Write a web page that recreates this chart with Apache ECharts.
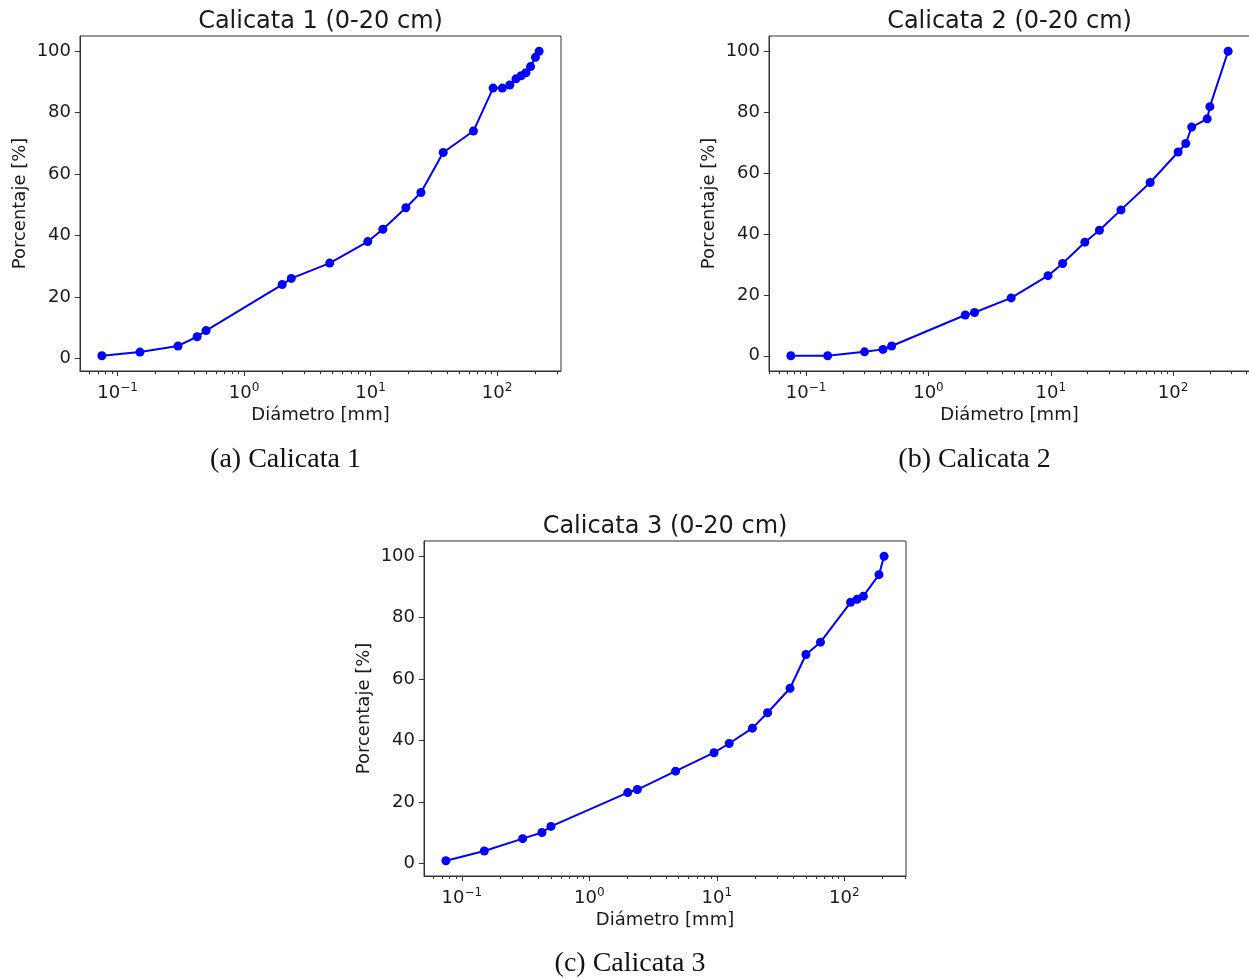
<!DOCTYPE html>
<html>
<head>
<meta charset="utf-8">
<script src="https://cdn.jsdelivr.net/npm/echarts@6/dist/echarts.min.js"></script>
<style>
html,body{margin:0;padding:0;background:#fff;}
#c{width:1249px;height:979px;}
</style>
</head>
<body>
<div id="c"></div>
<script>
// ---- data ----
const titles = ['Calicata 1 (0-20 cm)', 'Calicata 2 (0-20 cm)', 'Calicata 3 (0-20 cm)'];
const captions = ['(a) Calicata 1', '(b) Calicata 2', '(c) Calicata 3'];
const xLabel = 'Diámetro [mm]';
const yLabel = 'Porcentaje [%]';

const diam1 = [0.075, 0.15, 0.3, 0.425, 0.5, 2, 2.36, 4.75, 9.5, 12.5, 19, 25, 37.5, 65, 93, 110, 126, 141, 155, 169, 184, 201, 215];
const pct1  = [0.8, 2, 4, 7, 9, 24, 26, 31, 38, 42, 49, 54, 67, 74, 88, 88, 89, 91, 92, 93, 95, 98, 100];

const diam2 = [0.075, 0.15, 0.3, 0.425, 0.5, 2, 2.38, 4.75, 9.5, 12.5, 19, 25, 37.5, 65, 110, 127, 142, 190, 200, 282];
const pct2  = [0, 0, 1.3, 2.1, 3.2, 13.4, 14.2, 19, 26.3, 30.3, 37.3, 41.2, 47.9, 56.9, 66.9, 69.7, 75.1, 77.8, 81.8, 100];

const diam3 = [0.075, 0.15, 0.3, 0.425, 0.5, 2, 2.38, 4.75, 9.5, 12.5, 19, 25, 37.5, 50, 65, 112, 126, 141, 187, 205];
const pct3  = [0.8, 4, 8, 10, 12, 23, 24, 30, 36, 39, 44, 49, 57, 68, 72, 85, 86, 87, 94, 100];

const yTicks = [0, 20, 40, 60, 80, 100];
const xMajorTicks = [0.1, 1, 10, 100];
const xMinorTicks = [0.02,0.03,0.04,0.05,0.06,0.07,0.08,0.09,0.2,0.3,0.4,0.5,0.6,0.7,0.8,0.9,2,3,4,5,6,7,8,9,20,30,40,50,60,70,80,90,200,300,400,500,600,700,800,900];

// ---- layout ----
const panels = [
  {d: diam1, p: pct1, left: 80,  top: 36,  width: 481, height: 335, capY: 460},
  {d: diam2, p: pct2, left: 769, top: 36,  width: 481, height: 335, capY: 460},
  {d: diam3, p: pct3, left: 424, top: 541, width: 482, height: 335, capY: 964}
];
const FONT = 'DejaVu Sans';
const TXT = '#1a1a1a';
const AX = '#333333';

function logRange(arr) {
  const lo = Math.log10(Math.min.apply(null, arr)), hi = Math.log10(Math.max.apply(null, arr));
  const m = (hi - lo) * 0.05;
  return [Math.pow(10, lo - m), Math.pow(10, hi + m)];
}
function linRange(arr) {
  const lo = Math.min.apply(null, arr), hi = Math.max.apply(null, arr);
  const m = (hi - lo) * 0.05;
  return [lo - m, hi + m];
}
function supFmt(v) {
  const e = Math.round(Math.log10(v));
  return '{b|10}{s|' + (e < 0 ? '\u2212' + (-e) : e) + '}';
}

const grid = [], xAxis = [], yAxis = [], series = [], graphic = [];
panels.forEach(function (pn, i) {
  grid.push({left: pn.left, top: pn.top, width: pn.width, height: pn.height,
    show: true, borderColor: AX, borderWidth: 1, backgroundColor: '#fff',
    containLabel: false, outerBoundsMode: 'none'});
  const xr = logRange(pn.d), yr = linRange(pn.p);
  // major x axis
  xAxis.push({type: 'log', gridIndex: i, min: xr[0], max: xr[1], position: 'bottom',
    axisLine: {show: true, onZero: false, lineStyle: {color: AX, width: 1}},
    axisTick: {show: true, length: 5, customValues: xMajorTicks, lineStyle: {color: AX, width: 1}},
    axisLabel: {show: true, customValues: xMajorTicks, margin: 11, formatter: supFmt,
      rich: {
        b: {fontSize: 18, fontFamily: FONT, color: TXT, lineHeight: 22},
        s: {fontSize: 12, fontFamily: FONT, color: TXT, lineHeight: 12, verticalAlign: 'top'}
      }},
    splitLine: {show: false}, minorTick: {show: false}, minorSplitLine: {show: false},
    name: xLabel, nameLocation: 'middle', nameGap: 35,
    nameTextStyle: {fontSize: 18, fontFamily: FONT, color: TXT}
  });
  // minor x ticks
  xAxis.push({type: 'log', gridIndex: i, min: xr[0], max: xr[1], position: 'bottom',
    axisLine: {show: false, onZero: false},
    axisTick: {show: true, length: 3, customValues: xMinorTicks, lineStyle: {color: AX, width: 1}},
    axisLabel: {show: false}, splitLine: {show: false}
  });
  yAxis.push({type: 'value', gridIndex: i, min: yr[0], max: yr[1],
    axisLine: {show: true, onZero: false, lineStyle: {color: AX, width: 1}},
    axisTick: {show: true, length: 5, customValues: yTicks, lineStyle: {color: AX, width: 1}},
    axisLabel: {show: true, customValues: yTicks, margin: 9, fontSize: 18, fontFamily: FONT, color: TXT},
    splitLine: {show: false},
    name: yLabel, nameLocation: 'middle', nameGap: 51, nameRotate: 90,
    nameTextStyle: {fontSize: 18, fontFamily: FONT, color: TXT}
  });
  series.push({type: 'line', xAxisIndex: 2 * i, yAxisIndex: i,
    data: pn.d.map(function (d, k) { return [d, pn.p[k]]; }),
    symbol: 'circle', symbolSize: 9, showSymbol: true,
    lineStyle: {color: '#0000ff', width: 2},
    itemStyle: {color: '#0000ff'},
    emphasis: {disabled: true}, animation: false, clip: false
  });
  const cx = pn.left + pn.width / 2;
  graphic.push({type: 'text', x: cx, y: pn.top - 14,
    style: {text: titles[i], fill: TXT, font: '24px "DejaVu Sans"', align: 'center', verticalAlign: 'middle',
      textAlign: 'center', textVerticalAlign: 'middle'}});
  graphic.push({type: 'text', x: cx - 35, y: pn.capY,
    style: {text: captions[i], fill: '#111', font: '28px "Liberation Serif"', align: 'center', verticalAlign: 'middle',
      textAlign: 'center', textVerticalAlign: 'middle'}});
});

const chart = echarts.init(document.getElementById('c'), null, {renderer: 'canvas'});
chart.setOption({
  backgroundColor: '#ffffff',
  animation: false,
  grid: grid, xAxis: xAxis, yAxis: yAxis, series: series, graphic: graphic,
  tooltip: {show: false}
});
</script>
</body>
</html>
